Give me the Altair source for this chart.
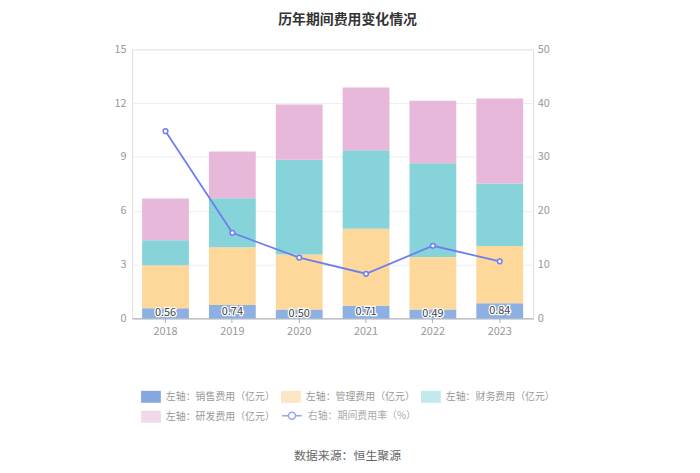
import altair as alt
import pandas as pd

years = ["2018", "2019", "2020", "2021", "2022", "2023"]
sales = [0.56, 0.74, 0.50, 0.71, 0.49, 0.84]
mgmt = [2.40, 3.22, 3.06, 4.29, 2.94, 3.20]
fin = [1.39, 2.74, 5.29, 4.37, 5.22, 3.48]
rd = [2.34, 2.61, 3.08, 3.50, 3.48, 4.74]
rate = [34.8, 15.9, 11.3, 8.3, 13.5, 10.6]

cats = ["左轴：销售费用（亿元）", "左轴：管理费用（亿元）", "左轴：财务费用（亿元）", "左轴：研发费用（亿元）"]
colors = ["#8eafe2", "#fed79a", "#86d3d9", "#e7b8da"]
legend_colors = ["#86a8df", "#fde6c4", "#c2e9eb", "#f2d8eb"]
line_name = "右轴：期间费用率（%）"
line_color = "#6e7ef0"

FONT = "Noto Sans CJK SC"

rows = []
for i, y in enumerate(years):
    for k, (c, arr) in enumerate(zip(cats, [sales, mgmt, fin, rd])):
        rows.append({"year": y, "cat": c, "value": arr[i], "ord": k})
bars_df = pd.DataFrame(rows)
line_df = pd.DataFrame({"year": years, "rate": rate, "series": [line_name] * len(years)})

# legend keys (ordered so the 3-column legend reads 销售, 管理, 财务 / 研发)
keys = ["d", "c", "b", "a"]
legend_df = pd.DataFrame({"key": keys})
perm = [0, 2, 1, 3]
leg_domain = [keys[i] for i in perm]
leg_range = [legend_colors[i] for i in perm]
label_map = "{" + ",".join("'%s':'%s'" % (k, c) for k, c in zip(keys, cats)) + "}"

x_enc = alt.X("year:N", title=None, sort=years,
              scale=alt.Scale(paddingInner=0.3, paddingOuter=0.15),
              axis=alt.Axis(labelAngle=0, labelColor="#999", labelFontSize=11, labelFont=FONT,
                            domainColor="#aaa", tickColor="#aaa", tickSize=4, labelPadding=3))

y_left = alt.Y("value:Q", title=None, stack="zero",
               scale=alt.Scale(domain=[0, 15], nice=False, zero=True),
               axis=alt.Axis(values=[0, 3, 6, 9, 12, 15], labelColor="#999", labelFontSize=11,
                             labelFont=FONT, domain=False, ticks=False, gridColor="#eceef3",
                             labelPadding=6))

sym_rect = "M-1,-0.6H1V0.6H-1Z"
bars = alt.Chart(bars_df).mark_bar().encode(
    x=x_enc,
    y=y_left,
    fill=alt.Fill("cat:N", sort=cats, scale=alt.Scale(domain=cats, range=colors), legend=None),
    order=alt.Order("ord:Q", sort="ascending"),
)

label_base = alt.Chart(bars_df).transform_filter(
    alt.datum.ord == 0
).transform_calculate(
    mid="datum.value / 2", lab="format(datum.value, '.2f')"
)
lab_halo = label_base.mark_text(font=FONT, fontSize=11, stroke="white", strokeWidth=2.5,
                                color="white", baseline="middle").encode(
    x=alt.X("year:N", sort=years), y=alt.Y("mid:Q"), text="lab:N")
lab_text = label_base.mark_text(font=FONT, fontSize=11, color="#444", baseline="middle").encode(
    x=alt.X("year:N", sort=years), y=alt.Y("mid:Q"), text="lab:N")

left = alt.layer(bars, lab_halo, lab_text)

legend_layer = alt.Chart(legend_df).mark_square(opacity=0.01, size=1).encode(
    color=alt.Color("key:N", scale=alt.Scale(domain=leg_domain, range=leg_range),
                    legend=alt.Legend(title=None, orient="none", legendX=9, legendY=340,
                                      columns=3, columnPadding=6, rowPadding=4,
                                      labelExpr=label_map + "[datum.label]",
                                      symbolType=sym_rect, symbolSize=400, symbolStrokeWidth=0,
                                      symbolOpacity=1,
                                      labelFont=FONT, labelFontSize=10, labelColor="#999",
                                      labelOffset=5, labelLimit=200)),
)

y_right = alt.Y("rate:Q", title=None,
                scale=alt.Scale(domain=[0, 50], nice=False),
                axis=alt.Axis(orient="right", values=[0, 10, 20, 30, 40, 50], labelColor="#999",
                              labelFontSize=11, labelFont=FONT, domain=False, ticks=False,
                              grid=False, labelPadding=4))

sym_line = "M-1,0H-0.35M0.35,0H1M0.35,0A0.35,0.35 0 1,1 -0.35,0A0.35,0.35 0 1,1 0.35,0"
stroke_enc = alt.Stroke("series:N", scale=alt.Scale(domain=[line_name], range=[line_color]),
                        legend=alt.Legend(title=None, orient="none", legendX=150, legendY=358,
                                          symbolType=sym_line, symbolSize=400, symbolStrokeWidth=1.5,
                                          symbolFillColor="white", symbolOpacity=0.7,
                                          labelFont=FONT, labelFontSize=10,
                                          labelColor="#aaa", labelOffset=5, labelLimit=200))

line = alt.Chart(line_df).mark_line(strokeWidth=1.8).encode(
    x=alt.X("year:N", sort=years), y=y_right, stroke=stroke_enc)
pts = alt.Chart(line_df).mark_point(filled=False, fill="white", size=22, strokeWidth=1.5, opacity=1).encode(
    x=alt.X("year:N", sort=years), y=y_right, stroke=stroke_enc)
right = alt.layer(line, pts)

title = alt.Chart(pd.DataFrame({"t": ["历年期间费用变化情况"]})).mark_text(
    font=FONT, fontSize=14, fontWeight="bold", color="#333", baseline="top", align="center"
).encode(x=alt.value(217), y=alt.value(-37), text="t:N")

source = alt.Chart(pd.DataFrame({"t": ["数据来源：恒生聚源"]})).mark_text(
    font=FONT, fontSize=12, color="#666", baseline="middle", align="center"
).encode(x=alt.value(217), y=alt.value(410), text="t:N")

chart = alt.layer(left, right, legend_layer, title, source).resolve_scale(
    y="independent", color="independent", stroke="independent", fill="independent"
).resolve_legend(color="independent", fill="independent", stroke="independent").properties(
    width=404, height=271,
    padding={"left": 125, "top": 40, "right": 160, "bottom": 144},
    autosize=alt.AutoSizeParams(type="none"),
).configure_view(stroke=None).configure(background="white")

chart.save("out.html", embed_options={"renderer": "svg", "actions": False})
